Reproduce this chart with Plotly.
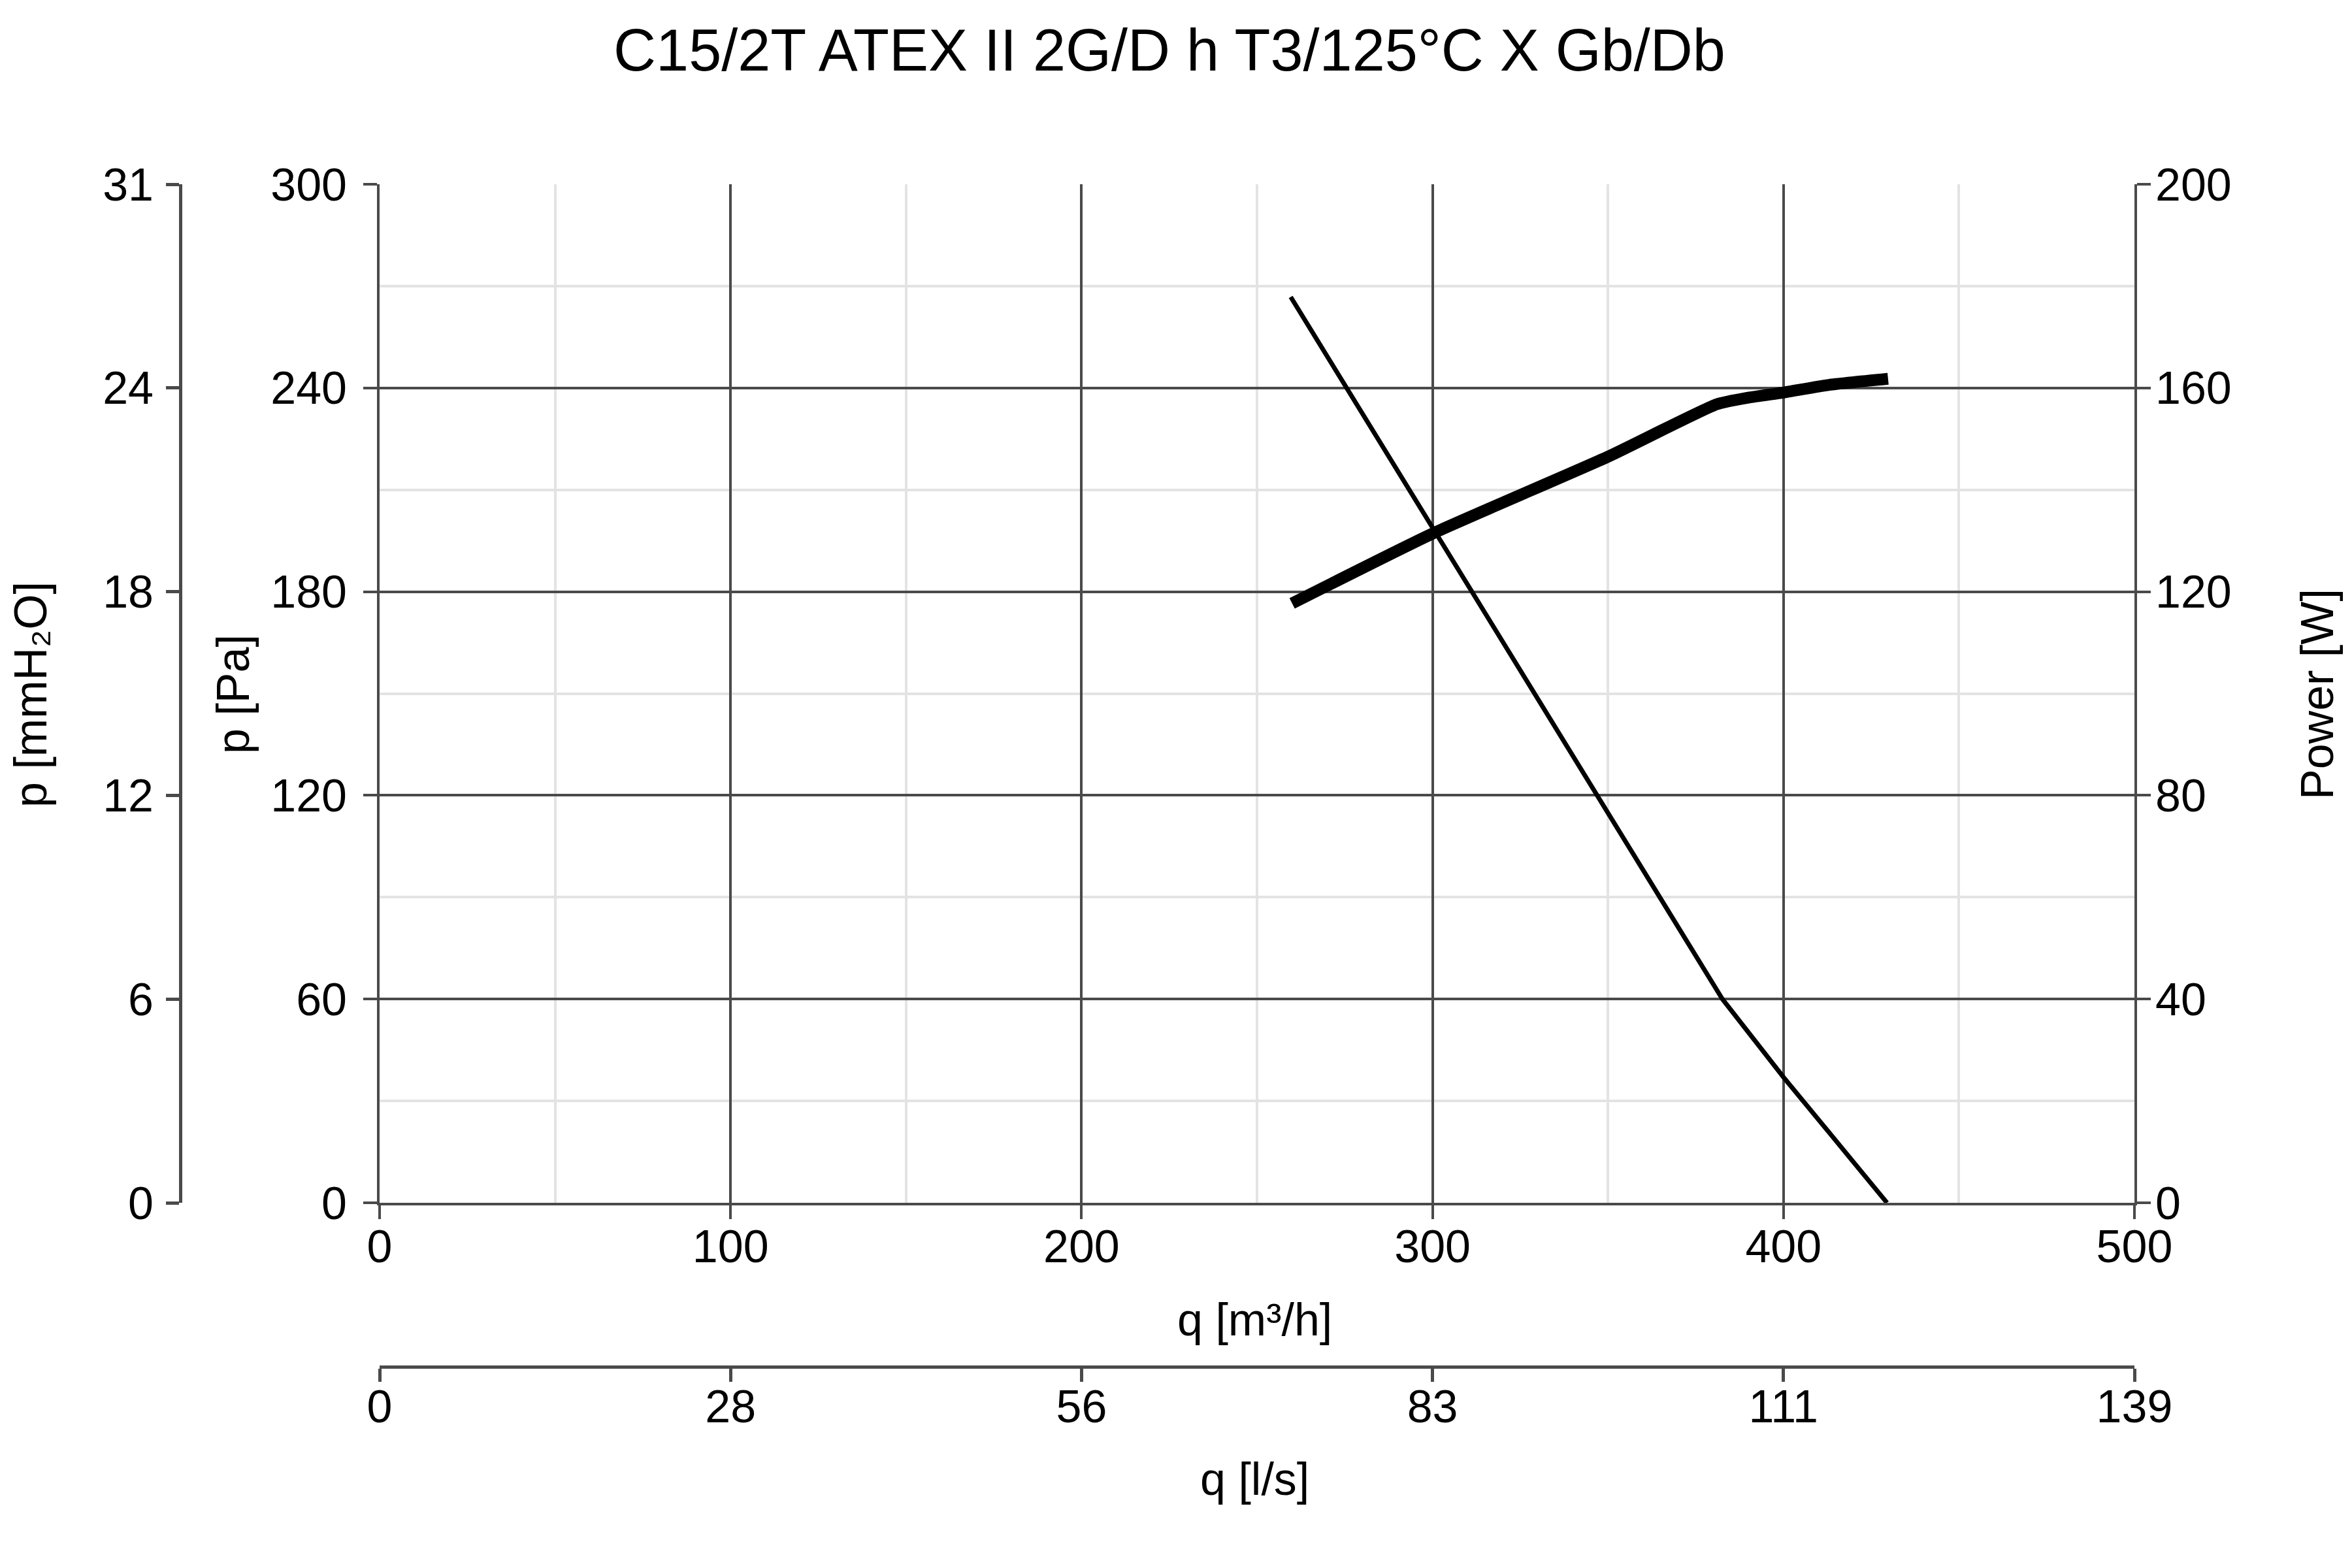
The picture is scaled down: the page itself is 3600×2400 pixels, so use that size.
import plotly.graph_objects as go

# ---- data ----
q_pressure = [259.6, 275.5, 292.8, 310.9, 328.4, 346, 364, 382.6, 400, 415, 429.5]
p_pressure = [266.8, 240, 211, 180.5, 151, 121.5, 91, 60, 37, 18, 0]

q_power = [260, 300, 350, 381, 390, 400, 413, 429.8]
w_power = [117.7, 131.4, 146.5, 156.8, 158.1, 159.1, 160.6, 161.8]

q_ticks = [0, 100, 200, 300, 400, 500]
q_minor = [50, 150, 250, 350, 450]
ls_ticktext = ["0", "28", "56", "83", "111", "139"]

pa_ticks = [0, 60, 120, 180, 240, 300]
pa_minor = [30, 90, 150, 210, 270]
mmh2o_ticktext = ["0", "6", "12", "18", "24", "31"]

w_ticks = [0, 40, 80, 120, 160, 200]

title_text = "C15/2T ATEX II 2G/D h T3/125°C X Gb/Db"

# ---- geometry (page pixels; the page body has an 8px margin) ----
OFF = 8
W, H = 3600, 2400
ML = 276 - OFF
MT = 282 - OFF
MB = H - (2092 - OFF)
MR = W - (3267 - OFF)
PW = W - ML - MR
PH = H - MT - MB
plot_left = 581 - OFF
plot_bottom = 1841 - OFF
xdom0 = (plot_left - ML) / PW
ydom0 = ((H - MB) - plot_bottom) / PH

FONT = "Arial, 'Liberation Sans', sans-serif"
AX = "#4a4a4a"
MINOR = "#e3e3e3"
tickfont = dict(family=FONT, size=70, color="black")

fig = go.Figure()
fig.add_trace(go.Scatter(x=q_pressure, y=p_pressure, mode="lines",
                         line=dict(color="black", width=7),
                         xaxis="x", yaxis="y", showlegend=False))
fig.add_trace(go.Scatter(x=q_power, y=w_power, mode="lines",
                         line=dict(color="black", width=18, shape="spline", smoothing=0.5),
                         xaxis="x", yaxis="y3", showlegend=False))
# empty traces so the secondary unit axes get drawn
fig.add_trace(go.Scatter(x=[], y=[], xaxis="x2", yaxis="y", showlegend=False))
fig.add_trace(go.Scatter(x=[], y=[], xaxis="x", yaxis="y2", showlegend=False))

common = dict(showline=True, linecolor=AX, ticks="outside", tickcolor=AX,
              tickfont=tickfont, zeroline=False, fixedrange=True)

fig.update_layout(
    width=W, height=H,
    margin=dict(l=ML, r=MR, t=MT, b=MB, pad=0),
    paper_bgcolor="white", plot_bgcolor="white",
    font=dict(family=FONT, size=70, color="black"),
    title=dict(text=title_text, x=(1790 - OFF) / W, xref="container", xanchor="center",
               y=1 - (76 - OFF) / H, yref="container", yanchor="middle",
               font=dict(family=FONT, size=90, color="black")),
    xaxis=dict(domain=[xdom0, 1], range=[0, 500], anchor="y",
               tickvals=q_ticks, showgrid=True, gridcolor=AX, gridwidth=4,
               minor=dict(tickvals=q_minor, showgrid=True, gridcolor=MINOR,
                          gridwidth=4, ticks=""),
               linewidth=4, ticklen=21, tickwidth=4, ticklabelstandoff=-18,
               **common),
    xaxis2=dict(overlaying="x", anchor="free", position=0, side="bottom",
                range=[0, 500], tickvals=q_ticks, ticktext=ls_ticktext,
                showgrid=False, linewidth=5, ticklen=20, tickwidth=5,
                ticklabelstandoff=-22, **common),
    yaxis=dict(domain=[ydom0, 1], range=[0, 300], anchor="x",
               tickvals=pa_ticks, showgrid=True, gridcolor=AX, gridwidth=4,
               minor=dict(tickvals=pa_minor, showgrid=True, gridcolor=MINOR,
                          gridwidth=4, ticks=""),
               linewidth=4, ticklen=21, tickwidth=4, ticklabelstandoff=11,
               **common),
    yaxis2=dict(overlaying="y", anchor="free", position=0, side="left",
                range=[0, 300], tickvals=pa_ticks, ticktext=mmh2o_ticktext,
                showgrid=False, linewidth=5, ticklen=20, tickwidth=5,
                ticklabelstandoff=5, **common),
    yaxis3=dict(overlaying="y", anchor="x", side="right",
                range=[0, 200], tickvals=w_ticks, showgrid=False,
                linewidth=4, ticklen=21, tickwidth=4, ticklabelstandoff=-7,
                **common),
)

def px_x(xp):
    return (xp - OFF - ML) / PW

def px_y(yp):
    return ((H - MB) - (yp - OFF)) / PH

ann_font = dict(family=FONT, size=70, color="black")
annots = [
    dict(text="q [m³/h]", x=px_x(1920), y=px_y(2020), textangle=0),
    dict(text="q [l/s]", x=px_x(1920), y=px_y(2264), textangle=0),
    dict(text="p [mmH₂O]", x=px_x(47), y=px_y(1063), textangle=-90),
    dict(text="p [Pa]", x=px_x(357), y=px_y(1063), textangle=-90),
    dict(text="Power [W]", x=px_x(3547), y=px_y(1063), textangle=-90),
]
for a in annots:
    fig.add_annotation(xref="paper", yref="paper", showarrow=False,
                       xanchor="center", yanchor="middle", font=ann_font, **a)

fig.write_html("out.html")
